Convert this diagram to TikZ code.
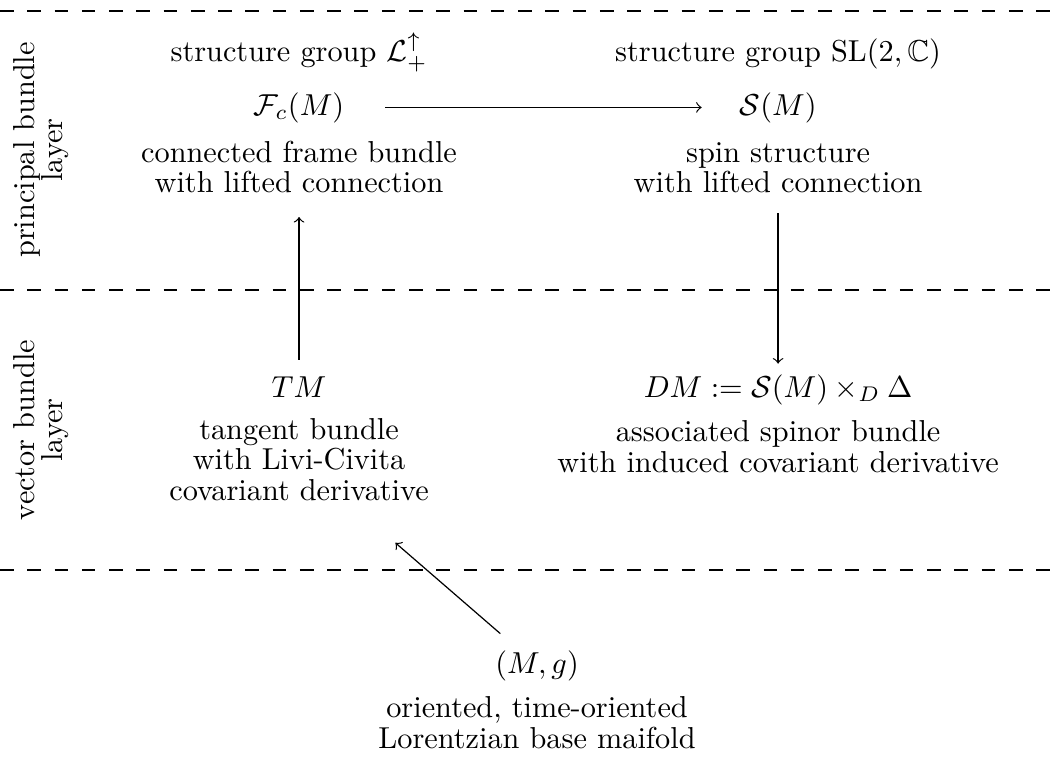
\documentclass[tikz,border=0pt]{standalone}
\usepackage{amssymb}
\usepackage{amsmath}
\usepackage{tikz}
\usetikzlibrary{positioning}

\begin{document}
\begin{tikzpicture}[
    font=\fontsize{10}{10}\selectfont,
    layerline/.style={dash pattern=on 4.5pt off 4.5pt},
    layertext/.style={rotate=90,align=center,font=\fontsize{10}{9}\selectfont},
    grouptext/.style={anchor=base},
    bundle/.style={anchor=base},
    desc/.style={anchor=base,align=center},
    arrow/.style={->}
]
\useasboundingbox (0,0) rectangle (12.25,-8.85);

% layer boundaries
\draw[layerline] (0,-0.128) -- (12.25,-0.128);
\draw[layerline] (0,-3.364) -- (12.25,-3.364);
\draw[layerline] (0,-6.613) -- (12.25,-6.613);

\node[layertext] (principal) at (0.476,-1.740) {principal bundle\\layer};
\node[layertext] (vector) at (0.476,-4.988) {vector bundle\\layer};

% principal bundles (desc nodes sit on their last line)
\node[grouptext] (framegroup) at (3.469,-0.719) {structure group $\mathcal{L}_+^\uparrow$};
\node[grouptext] (spingroup) at (9.026,-0.719) {structure group $\mathrm{SL}(2,\mathbb{C})$};
\node[bundle] (frame) at (3.469,-1.334) {$\mathcal{F}_c(M)$};
\node[bundle] (spin) at (9.026,-1.334) {$\mathcal{S}(M)$};
\node[desc] (framedesc) at (3.469,-2.231) {connected frame bundle\\with lifted connection};
\node[desc] (spindesc) at (9.026,-2.231) {spin structure\\with lifted connection};

% vector bundles
\node[bundle] (tangent) at (3.469,-4.606) {$TM$};
\node[bundle] (spinor) at (9.026,-4.606) {$DM := \mathcal{S}(M) \times_D \Delta$};
\node[desc] (tangentdesc) at (3.469,-5.800) {tangent bundle\\with Livi-Civita\\covariant derivative};
\node[desc] (spinordesc) at (9.026,-5.476) {associated spinor bundle\\with induced covariant derivative};

% base manifold
\node[bundle] (base) at (6.230,-7.807) {$(M,g)$};
\node[desc] (basedesc) at (6.230,-8.677) {oriented, time-oriented\\Lorentzian base maifold};

\draw[arrow,shorten <=10pt,shorten >=9pt] (frame) -- (spin);
\draw[arrow,shorten <=2pt,shorten >=4.5pt] (tangent) -- (framedesc);
\draw[arrow,shorten <=3.3pt] (spindesc) -- (spinor);
\draw[arrow,shorten <=3pt,shorten >=16pt] (base) -- (tangentdesc);
\end{tikzpicture}
\end{document}
